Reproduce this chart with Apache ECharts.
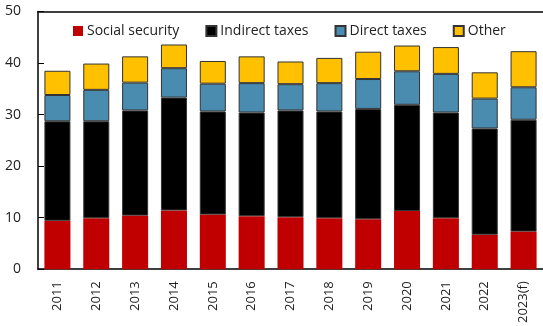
<!DOCTYPE html>
<html>
<head>
<meta charset="utf-8">
<script src="https://cdn.jsdelivr.net/npm/echarts@6/dist/echarts.min.js"></script>
<style>
  html, body { margin: 0; padding: 0; background: #fff; }
  #chart { width: 543px; height: 326px; }
</style>
</head>
<body>
<div id="chart"></div>
<script>
// years on the x axis
const years = ['2011', '2012', '2013', '2014', '2015', '2016', '2017', '2018', '2019', '2020', '2021', '2022', '2023(f)'];

// stacked components
const socialSecurity = [9.4, 9.9, 10.4, 11.4, 10.6, 10.3, 10.1, 9.9, 9.7, 11.3, 9.9, 6.7, 7.3];
const indirectTaxes  = [19.3, 18.8, 20.4, 21.9, 20.0, 20.1, 20.7, 20.7, 21.4, 20.6, 20.5, 20.6, 21.7];
const directTaxes    = [5.1, 6.1, 5.4, 5.7, 5.4, 5.7, 5.1, 5.5, 5.8, 6.5, 7.5, 5.8, 6.3];
const other          = [4.7, 5.1, 5.1, 4.6, 4.4, 5.2, 4.4, 4.9, 5.3, 5.0, 5.2, 5.1, 7.0];

const FONT = 'Open Sans';

function barSeries(name, data, color, border) {
  return {
    name: name,
    type: 'bar',
    stack: 'total',
    barCategoryGap: '33%',
    data: data,
    itemStyle: {
      color: color,
      borderColor: border ? '#333' : color,
      borderWidth: border ? 1 : 0
    }
  };
}

const chart = echarts.init(document.getElementById('chart'));
chart.setOption({
  animation: false,
  textStyle: { fontFamily: FONT },
  grid: { left: 38, right: 0, top: 11.5, bottom: 56 },
  legend: {
    top: 19,
    left: 68,
    icon: 'rect',
    itemWidth: 10,
    itemHeight: 10,
    itemGap: 26,
    textStyle: { fontFamily: FONT, fontSize: 14, color: '#222', padding: [0, 0, 0, -1] }
  },
  xAxis: [
    {
      type: 'category',
      data: years,
      axisLine: { lineStyle: { color: '#000', width: 1.5 } },
      axisTick: { inside: true, length: 5, lineStyle: { color: '#000' } },
      axisLabel: { rotate: 90, margin: 12, fontSize: 13, color: '#222', fontFamily: FONT }
    },
    {
      type: 'category',
      position: 'top',
      data: years,
      axisLine: { lineStyle: { color: '#000', width: 1.5 } },
      axisTick: { show: false },
      axisLabel: { show: false }
    }
  ],
  yAxis: {
    type: 'value',
    min: 0,
    max: 50,
    interval: 10,
    axisLine: { show: true, lineStyle: { color: '#000', width: 1.5 } },
    axisTick: { show: true, inside: true, length: 6, lineStyle: { color: '#000' } },
    splitLine: { show: false },
    axisLabel: { margin: 17, fontSize: 14, color: '#222', fontFamily: FONT }
  },
  series: [
    barSeries('Social security', socialSecurity, '#C00000', false),
    barSeries('Indirect taxes', indirectTaxes, '#000000', true),
    barSeries('Direct taxes', directTaxes, '#4A8CB0', true),
    barSeries('Other', other, '#FFC000', true)
  ]
});
</script>
</body>
</html>
